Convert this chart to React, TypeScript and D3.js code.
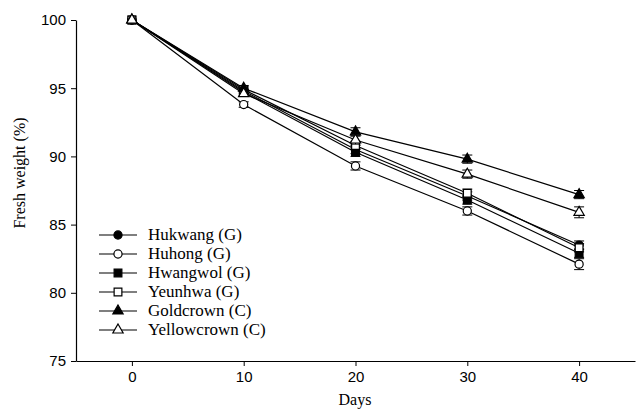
import React, { useEffect, useRef } from 'react';
import * as d3 from 'd3';

const days = [0, 10, 20, 30, 40];
const cultivars = ['Hukwang (G)', 'Huhong (G)', 'Hwangwol (G)', 'Yeunhwa (G)', 'Goldcrown (C)', 'Yellowcrown (C)'];
const hukwang = [100, 94.8, 90.5, 87.1, 83.5];
const huhong = [100, 93.8, 89.3, 86.0, 82.1];
const hwangwol = [100, 94.7, 90.3, 86.8, 82.9];
const yeunhwa = [100, 94.9, 90.8, 87.3, 83.3];
const goldcrown = [100, 95.0, 91.8, 89.8, 87.2];
const yellowcrown = [100, 94.6, 91.2, 88.7, 85.9];
const errHukwang = [0, 0.2, 0.3, 0.3, 0.3];
const errHuhong = [0, 0.2, 0.3, 0.3, 0.4];
const errHwangwol = [0, 0.2, 0.3, 0.3, 0.3];
const errYeunhwa = [0, 0.2, 0.3, 0.3, 0.3];
const errGoldcrown = [0, 0.2, 0.3, 0.3, 0.3];
const errYellowcrown = [0, 0.2, 0.3, 0.3, 0.4];
const xTicks = [0, 10, 20, 30, 40];
const yTicks = [75, 80, 85, 90, 95, 100];

const App = () => {
  const svgRef = useRef<SVGSVGElement>(null);

  useEffect(() => {
    const svg = d3.select(svgRef.current);
    svg.selectAll('*').remove();

    const width = 642;
    const height = 409;
    const x = d3.scaleLinear().domain([-5, 45]).range([76, 635]);
    const y = d3.scaleLinear().domain([75, 100]).range([361, 20]);
    const serif = "'Liberation Serif', 'Times New Roman', serif";
    const sans = "'Liberation Sans', Arial, sans-serif";

    const series = [
      { name: cultivars[0], values: hukwang, err: errHukwang, shape: d3.symbolCircle, size: 52, fill: '#000' },
      { name: cultivars[1], values: huhong, err: errHuhong, shape: d3.symbolCircle, size: 52, fill: '#fff' },
      { name: cultivars[2], values: hwangwol, err: errHwangwol, shape: d3.symbolSquare, size: 60, fill: '#000' },
      { name: cultivars[3], values: yeunhwa, err: errYeunhwa, shape: d3.symbolSquare, size: 60, fill: '#fff' },
      { name: cultivars[4], values: goldcrown, err: errGoldcrown, shape: d3.symbolTriangle, size: 46, fill: '#000' },
      { name: cultivars[5], values: yellowcrown, err: errYellowcrown, shape: d3.symbolTriangle, size: 46, fill: '#fff' },
    ];

    svg.attr('width', width).attr('height', height).style('background', '#fff');

    // axes
    const xAxis = svg
      .append('g')
      .attr('transform', `translate(0,${y(75)})`)
      .call(d3.axisBottom(x).tickValues(xTicks).tickSize(5).tickSizeOuter(0));
    xAxis.select('.domain').attr('stroke-width', 1.2);
    xAxis.selectAll('text').attr('font-family', sans).attr('font-size', 15).attr('dy', '0.85em');

    const yAxis = svg
      .append('g')
      .attr('transform', `translate(${x(-5)},0)`)
      .call(d3.axisLeft(y).tickValues(yTicks).tickSize(5).tickSizeOuter(0));
    yAxis.select('.domain').attr('stroke-width', 1.2);
    yAxis.selectAll('text').attr('font-family', sans).attr('font-size', 15).attr('x', -10);

    svg
      .append('text')
      .attr('x', 355)
      .attr('y', 405)
      .attr('text-anchor', 'middle')
      .attr('font-family', serif)
      .attr('font-size', 16)
      .text('Days');

    svg
      .append('text')
      .attr('transform', 'translate(25,173) rotate(-90)')
      .attr('text-anchor', 'middle')
      .attr('font-family', serif)
      .attr('font-size', 16)
      .text('Fresh weight (%)');

    const line = d3
      .line<number>()
      .x((_, i) => x(days[i]))
      .y((d) => y(d));

    series.forEach((s) => {
      svg.append('path').attr('d', line(s.values)).attr('fill', 'none').attr('stroke', '#000').attr('stroke-width', 1.2);
    });

    series.forEach((s) => {
      const g = svg.append('g');
      s.values.forEach((v, i) => {
        const e = s.err[i];
        if (e > 0) {
          const cx = x(days[i]);
          g.append('line').attr('x1', cx).attr('x2', cx).attr('y1', y(v - e)).attr('y2', y(v + e)).attr('stroke', '#000').attr('stroke-width', 1);
          [v - e, v + e].forEach((c) => {
            g.append('line').attr('x1', cx - 5).attr('x2', cx + 5).attr('y1', y(c)).attr('y2', y(c)).attr('stroke', '#000').attr('stroke-width', 1);
          });
        }
      });
      g.selectAll('path')
        .data(s.values)
        .join('path')
        .attr('d', d3.symbol().type(s.shape).size(s.size)())
        .attr('transform', (d, i) => `translate(${x(days[i])},${y(d)})`)
        .attr('fill', s.fill)
        .attr('stroke', '#000')
        .attr('stroke-width', 1.2);
    });

    // legend
    const legend = svg.append('g');
    series.forEach((s, i) => {
      const ly = 235 + i * 19;
      legend.append('line').attr('x1', 99).attr('x2', 137).attr('y1', ly).attr('y2', ly).attr('stroke', '#000').attr('stroke-width', 1.2);
      legend
        .append('path')
        .attr('d', d3.symbol().type(s.shape).size(s.size)())
        .attr('transform', `translate(118,${ly})`)
        .attr('fill', s.fill)
        .attr('stroke', '#000')
        .attr('stroke-width', 1.2);
      legend
        .append('text')
        .attr('x', 148)
        .attr('y', ly + 5)
        .attr('font-family', serif)
        .attr('font-size', 17)
        .text(s.name);
    });
  }, []);

  return (
    <div style={{ position: 'absolute', left: 0, top: 0 }}>
      <svg ref={svgRef}></svg>
    </div>
  );
};

export default App;
